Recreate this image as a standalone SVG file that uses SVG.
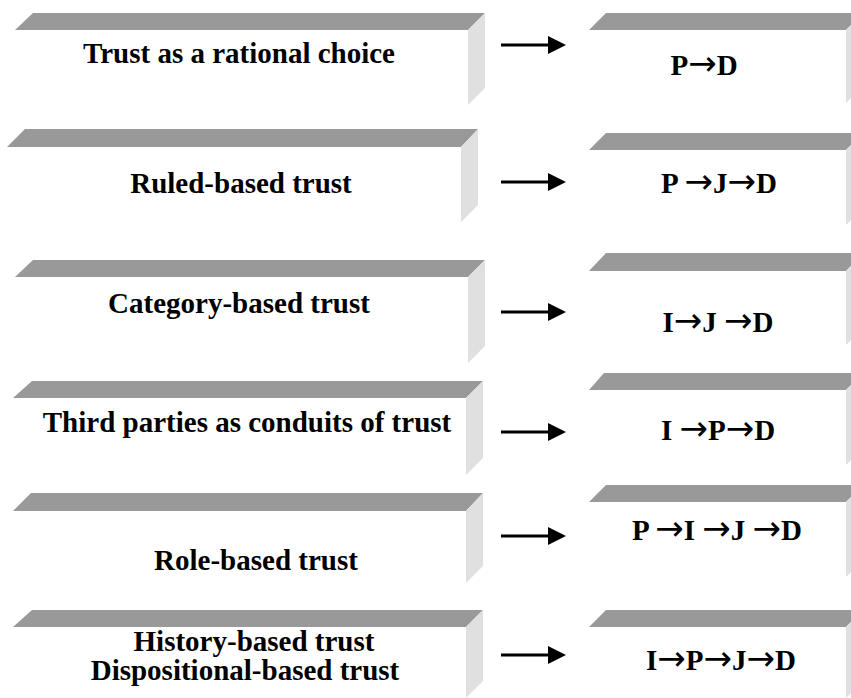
<svg xmlns="http://www.w3.org/2000/svg" width="851" height="698" viewBox="0 0 851 698">
<style>
.top{fill:#999999}
.side{fill:#e0e0e0}
.t{font-family:"Liberation Serif","Times New Roman",serif;font-weight:bold;font-size:29px;fill:#000;text-anchor:middle}
.ar{font-family:"DejaVu Sans",sans-serif;font-weight:normal;font-size:34px}
.conn{stroke:#000;stroke-width:3;fill:none}
</style>
<defs>
<marker id="ah" markerUnits="userSpaceOnUse" markerWidth="18" markerHeight="18" refX="0" refY="9" orient="auto">
<polygon points="0,0 18,9 0,18" fill="#000"/>
</marker>
</defs>
<rect width="851" height="698" fill="#fff"/>

<g id="L1">
<polygon class="top" points="15,30 33,13 485,13 468,30"/>
<polygon class="side" points="468,30 485,13 485,88 468,105"/>
<text class="t" x="239" y="63">Trust as a rational choice</text>
</g>
<g id="L2">
<polygon class="top" points="7,147 25,129 478,129 461,147"/>
<polygon class="side" points="461,147 478,129 478,205 461,222"/>
<text class="t" x="241" y="193">Ruled-based trust</text>
</g>
<g id="L3">
<polygon class="top" points="15,277 33,260 485,260 468,277"/>
<polygon class="side" points="468,277 485,260 485,346 468,363"/>
<text class="t" x="239" y="313">Category-based trust</text>
</g>
<g id="L4">
<polygon class="top" points="13,398 32,381 483,381 466,398"/>
<polygon class="side" points="466,398 483,381 483,458 466,475"/>
<text class="t" x="247" y="432">Third parties as conduits of trust</text>
</g>
<g id="L5">
<polygon class="top" points="13,511 31,493 483,493 466,511"/>
<polygon class="side" points="466,511 483,493 483,566 466,583"/>
<text class="t" x="256" y="570">Role-based trust</text>
</g>
<g id="L6">
<polygon class="top" points="13,627 32,610 483,610 466,627"/>
<polygon class="side" points="466,627 483,610 483,681 466,698"/>
<text class="t" x="254" y="651">History-based trust</text>
<text class="t" x="245" y="680">Dispositional-based trust</text>
</g>

<g id="R1">
<polygon class="top" points="589,30 606,13 863,13 846,30"/>
<polygon class="side" points="846,30 863,13 863,86 846,103"/>
<text class="t" x="704" y="75">P<tspan class="ar">→</tspan>D</text>
</g>
<g id="R2">
<polygon class="top" points="589,150 606,133 863,133 846,150"/>
<polygon class="side" points="846,150 863,133 863,208 846,225"/>
<text class="t" x="719" y="193">P <tspan class="ar">→</tspan>J<tspan class="ar">→</tspan>D</text>
</g>
<g id="R3">
<polygon class="top" points="589,271 606,253 863,253 846,271"/>
<polygon class="side" points="846,271 863,253 863,328 846,345"/>
<text class="t" x="718" y="332">I<tspan class="ar">→</tspan>J <tspan class="ar">→</tspan>D</text>
</g>
<g id="R4">
<polygon class="top" points="589,390 604,373 863,373 846,390"/>
<polygon class="side" points="846,390 863,373 863,448 846,465"/>
<text class="t" x="718" y="440">I <tspan class="ar">→</tspan>P<tspan class="ar">→</tspan>D</text>
</g>
<g id="R5">
<polygon class="top" points="589,502 606,485 863,485 846,502"/>
<polygon class="side" points="846,502 863,485 863,560 846,577"/>
<text class="t" x="717" y="540">P <tspan class="ar">→</tspan>I <tspan class="ar">→</tspan>J <tspan class="ar">→</tspan>D</text>
</g>
<g id="R6">
<polygon class="top" points="589,627 606,610 863,610 846,627"/>
<polygon class="side" points="846,627 863,610 863,681 846,698"/>
<text class="t" x="721" y="670">I<tspan class="ar">→</tspan>P<tspan class="ar">→</tspan>J<tspan class="ar">→</tspan>D</text>
</g>

<g id="connectors">
<line class="conn" x1="501" y1="45" x2="548" y2="45" marker-end="url(#ah)"/>
<line class="conn" x1="501" y1="182" x2="548" y2="182" marker-end="url(#ah)"/>
<line class="conn" x1="501" y1="312" x2="548" y2="312" marker-end="url(#ah)"/>
<line class="conn" x1="501" y1="432" x2="548" y2="432" marker-end="url(#ah)"/>
<line class="conn" x1="501" y1="536" x2="548" y2="536" marker-end="url(#ah)"/>
<line class="conn" x1="501" y1="655" x2="548" y2="655" marker-end="url(#ah)"/>
</g>
</svg>
